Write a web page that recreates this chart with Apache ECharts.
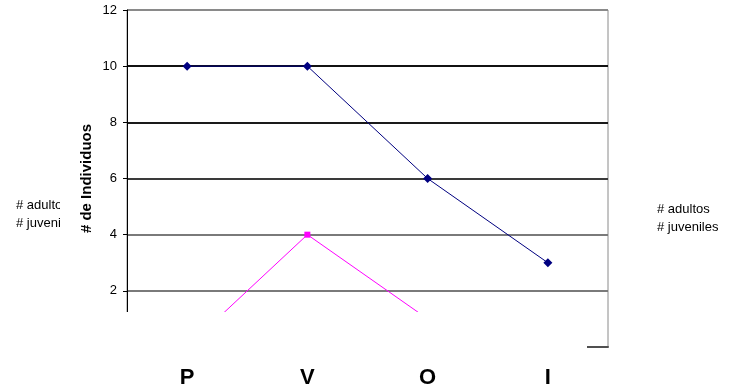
<!DOCTYPE html>
<html>
<head>
<meta charset="utf-8">
<script src="https://cdn.jsdelivr.net/npm/echarts@6/dist/echarts.min.js"></script>
<style>
  html, body { margin: 0; padding: 0; background: #fff; }
  #chart { width: 744px; height: 392px; }
</style>
</head>
<body>
<div id="chart"></div>
<script>
// Estaciones y conteos de individuos
const categories = ['P', 'V', 'O', 'I'];
const adultos = [10, 10, 6, 3];
const juveniles = [0, 4, 1, 0];
const seriesNames = ['# adultos', '# juveniles'];
const yTicks = { min: 0, max: 12, interval: 2 };

const FONT = 'Liberation Sans, Arial, sans-serif';
const chart = echarts.init(document.getElementById('chart'), null, { renderer: 'canvas' });

chart.setOption({
  animation: false,
  backgroundColor: '#ffffff',
  textStyle: { fontFamily: FONT },
  grid: {
    left: 127, right: 136, top: 10, bottom: 45,
    show: true, borderColor: '#8a8a8a', borderWidth: 1, backgroundColor: 'transparent'
  },
  legend: [
    {
      data: seriesNames, orient: 'vertical', left: 646, top: 198,
      itemWidth: 0, itemHeight: 0, itemGap: 5, selectedMode: false,
      textStyle: { fontSize: 13, color: '#000', fontFamily: FONT }
    },
    {
      data: seriesNames, orient: 'vertical', left: 5, top: 194,
      itemWidth: 0, itemHeight: 0, itemGap: 5, selectedMode: false,
      textStyle: { fontSize: 13, color: '#000', fontFamily: FONT }
    }
  ],
  xAxis: {
    type: 'category',
    data: categories,
    boundaryGap: true,
    axisLine: { show: true, lineStyle: { color: '#505050', width: 2 } },
    axisTick: { show: false },
    axisLabel: { margin: 20, fontSize: 22, fontWeight: 'bold', color: '#000', fontFamily: FONT },
    splitLine: { show: false }
  },
  yAxis: {
    type: 'value',
    min: yTicks.min, max: yTicks.max, interval: yTicks.interval,
    name: '# de Individuos',
    nameLocation: 'middle',
    nameGap: 33,
    nameMoveOverlap: false,
    nameTextStyle: { fontSize: 15, fontWeight: 'bold', color: '#000', fontFamily: FONT },
    axisLine: { show: true, lineStyle: { color: '#000', width: 1 } },
    axisTick: { show: true, inside: false, length: 4, lineStyle: { color: '#000' } },
    axisLabel: { margin: 10, fontSize: 13, color: '#000', fontFamily: FONT },
    splitLine: {
      show: true,
      lineStyle: {
        width: 2,
        color: ['#555555', '#7a7a7a', '#7a7a7a', '#3a3a3a', '#1a1a1a', '#111111', '#8a8a8a']
      }
    }
  },
  series: [
    {
      name: seriesNames[0], type: 'line', data: adultos,
      symbol: 'diamond', symbolSize: 9, z: 3,
      lineStyle: { color: '#000080', width: 1 },
      itemStyle: { color: '#000080' }
    },
    {
      name: seriesNames[1], type: 'line', data: juveniles,
      symbol: 'rect', symbolSize: 6, z: 3,
      lineStyle: { color: '#ff00ff', width: 1 },
      itemStyle: { color: '#ff00ff' }
    }
  ],
  graphic: [
    // blank band across the lower part of the plot
    { type: 'rect', z: 100, silent: true, shape: { x: 0, y: 312, width: 587, height: 41 },
      style: { fill: '#ffffff' } },
    // trims the left-hand legend text
    { type: 'rect', z: 100, silent: true, shape: { x: 60, y: 190, width: 18, height: 46 },
      style: { fill: '#ffffff' } }
  ]
});
</script>
</body>
</html>
